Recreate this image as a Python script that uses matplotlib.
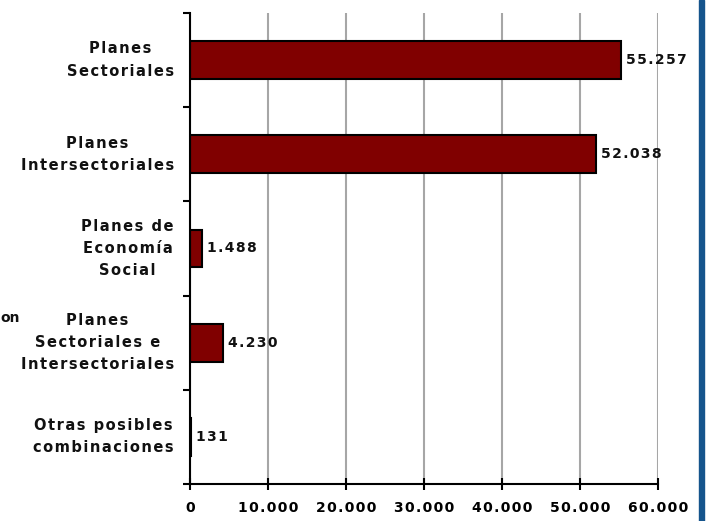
import matplotlib.pyplot as plt
from matplotlib.patches import Rectangle

categories = ['Planes\nSectoriales',
              'Planes\nIntersectoriales',
              'Planes de\nEconomía\nSocial',
              'Planes\nSectoriales e\nIntersectoriales',
              'Otras posibles\ncombinaciones']
values = [55257, 52038, 1488, 4230, 131]
xticks = [0, 10000, 20000, 30000, 40000, 50000, 60000]

HAIR = '\u200a'


def spaced(s):
    # widen the tracking a little by putting hair spaces between letters
    return '\n'.join(HAIR.join(line) for line in s.split('\n'))


def fmt(v):
    return spaced(f'{v:,}'.replace(',', '.'))


plt.rcParams['font.family'] = ['DejaVu Sans']
plt.rcParams['font.weight'] = 'bold'

fig = plt.figure(figsize=(7.1, 5.21), dpi=100)
ax = fig.add_axes([190 / 710, 1 - 484 / 521, 468 / 710, 471 / 521])

ypos = list(range(len(categories)))
ax.barh(ypos, values, height=0.4, color='#800000', edgecolor='black',
        linewidth=1.5, zorder=3)
for y, v in zip(ypos, values):
    ax.text(v + 700, y, fmt(v), va='center', ha='left', fontsize=10,
            fontweight='bold', color='#111111', zorder=4)

ax.set_xlim(0, 60000)
ax.set_ylim(len(categories) - 0.5, -0.5)
ax.set_xticks(xticks)
ax.set_xticklabels([fmt(t) for t in xticks], fontsize=10, fontweight='bold')
ax.set_yticks([i - 0.5 for i in range(len(categories) + 1)])
ax.set_yticklabels([])
ax.tick_params(axis='y', direction='out', length=5, width=1.5)
ax.tick_params(axis='x', direction='inout', length=8, width=1.5, pad=8)
ax.xaxis.grid(True, color='#a6a6a6', linewidth=1.5, zorder=0)
ax.set_axisbelow(True)

for s in ['top', 'right']:
    ax.spines[s].set_visible(False)
for s in ['left', 'bottom']:
    ax.spines[s].set_linewidth(1.5)
    ax.spines[s].set_zorder(5)

# category labels to the left of the axis
for y, c in zip(ypos, categories):
    ax.annotate(spaced(c), xy=(0, y), xycoords=('axes fraction', 'data'),
                xytext=(-16, 0), textcoords='offset pixels',
                ha='right', va='center', multialignment='center',
                fontsize=10.5, fontweight='bold', linespacing=1.6,
                color='#111111')

fig.text(0.5 / 710, 1 - 318 / 521, 'on', ha='left', va='center',
         fontsize=10, fontweight='bold', color='#111111')

fig.patches.append(Rectangle((699 / 710, 0), 5 / 710, 1,
                             transform=fig.transFigure,
                             color='#15548c', zorder=10))

fig.savefig('out.png', dpi=100)
